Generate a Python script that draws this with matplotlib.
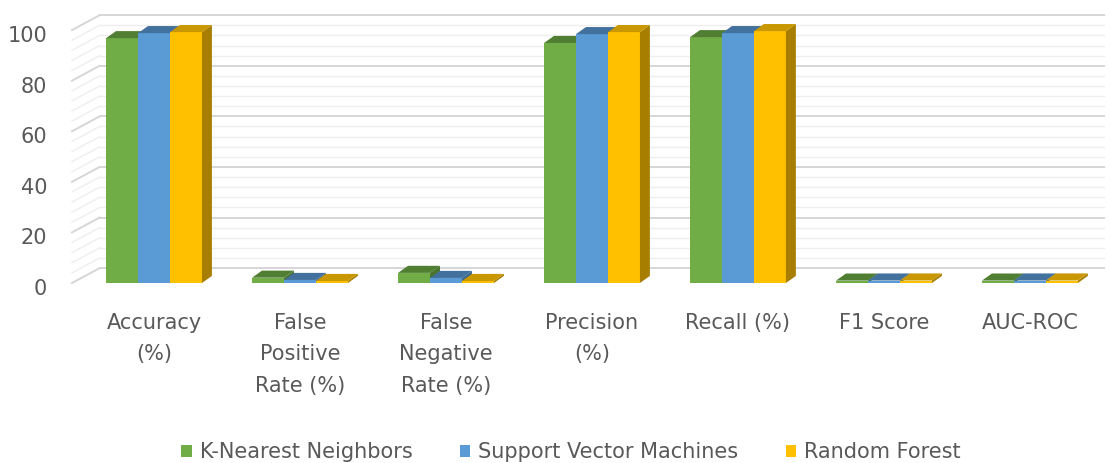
import numpy as np
import matplotlib.pyplot as plt
from matplotlib.patches import Polygon, Patch
from matplotlib.transforms import blended_transform_factory

# data
categories = ['Accuracy\n(%)', 'False\nPositive\nRate (%)', 'False\nNegative\nRate (%)',
              'Precision\n(%)', 'Recall (%)', 'F1 Score', 'AUC-ROC']
series_names = ['K-Nearest Neighbors', 'Support Vector Machines', 'Random Forest']
knn = [96.8, 2.1, 4.0, 94.9, 97.2, 0.95, 0.96]
svm = [98.8, 1.2, 2.0, 98.4, 98.8, 0.97, 0.98]
rf = [99.2, 0.8, 0.8, 99.2, 99.6, 0.98, 0.99]
yticks = [0, 20, 40, 60, 80, 100]

colors = ['#70AD47', '#5B9BD5', '#FFC000']
tops = ['#507E32', '#41719C', '#C99700']
sides = ['#4A752E', '#3B6891', '#A87E00']
text_c = '#595959'
fs = 15

plt.rcParams['font.family'] = 'DejaVu Sans'
fig = plt.figure(figsize=(11.11, 4.63), dpi=100)
ax = fig.add_axes([60/1111, 163/463, 1051/1111, 300/463])
ax.set_xlim(-0.644, 6.555)
ax.set_ylim(-6.72, 111.9)
ax.axis('off')

# pseudo 3d geometry (in data units)
wall_dx, wall_dy = 0.19, 5.9
bar_dx, bar_dy = 0.068, 2.8
bw = 0.219
x_front_left = -0.562
x_right = 6.51

# walls with gridlines
for v in np.arange(0, 101, 4):
    major = v % 20 == 0
    c = '#D6D6D6' if major else '#EEEEEE'
    lw = 1.4 if major else 1.0
    ax.plot([x_front_left, x_front_left + wall_dx], [v, v + wall_dy], color=c, lw=lw, zorder=1)
    ax.plot([x_front_left + wall_dx, x_right], [v + wall_dy, v + wall_dy], color=c, lw=lw, zorder=1)

for v in yticks:
    ax.text(-0.733, v - 2.4, str(v), ha='right', va='center', fontsize=fs, color=text_c)

# bars
x = np.arange(len(categories))
data = [knn, svm, rf]
z = 3
for i in range(len(categories)):
    for j, vals in enumerate(data):
        x0 = x[i] + (j - 1.5) * bw
        x1 = x0 + bw
        h = vals[i]
        ax.bar(x0, h, width=bw, align='edge', color=colors[j], zorder=z)
        top = Polygon([(x0, h), (x1, h), (x1 + bar_dx, h + bar_dy), (x0 + bar_dx, h + bar_dy)],
                      closed=True, facecolor=tops[j], edgecolor='none', zorder=z)
        side = Polygon([(x1, 0), (x1 + bar_dx, bar_dy), (x1 + bar_dx, h + bar_dy), (x1, h)],
                       closed=True, facecolor=sides[j], edgecolor='none', zorder=z)
        ax.add_patch(side)
        ax.add_patch(top)
        z += 1

# category labels
trans = blended_transform_factory(ax.transData, ax.transAxes)
for i, lab in enumerate(categories):
    ax.text(x[i], -0.043, lab, transform=trans, ha='center', va='top',
            fontsize=fs, color=text_c, linespacing=1.72, multialignment='center')

handles = [Patch(facecolor=c, edgecolor='none') for c in colors]
fig.legend(handles, series_names, loc='center', bbox_to_anchor=(0.514, 11/463), ncol=3,
           frameon=False, fontsize=fs, labelcolor=text_c, handlelength=0.5, handleheight=0.5,
           handletextpad=0.4, columnspacing=2.26)

fig.savefig('out.png', dpi=100)
